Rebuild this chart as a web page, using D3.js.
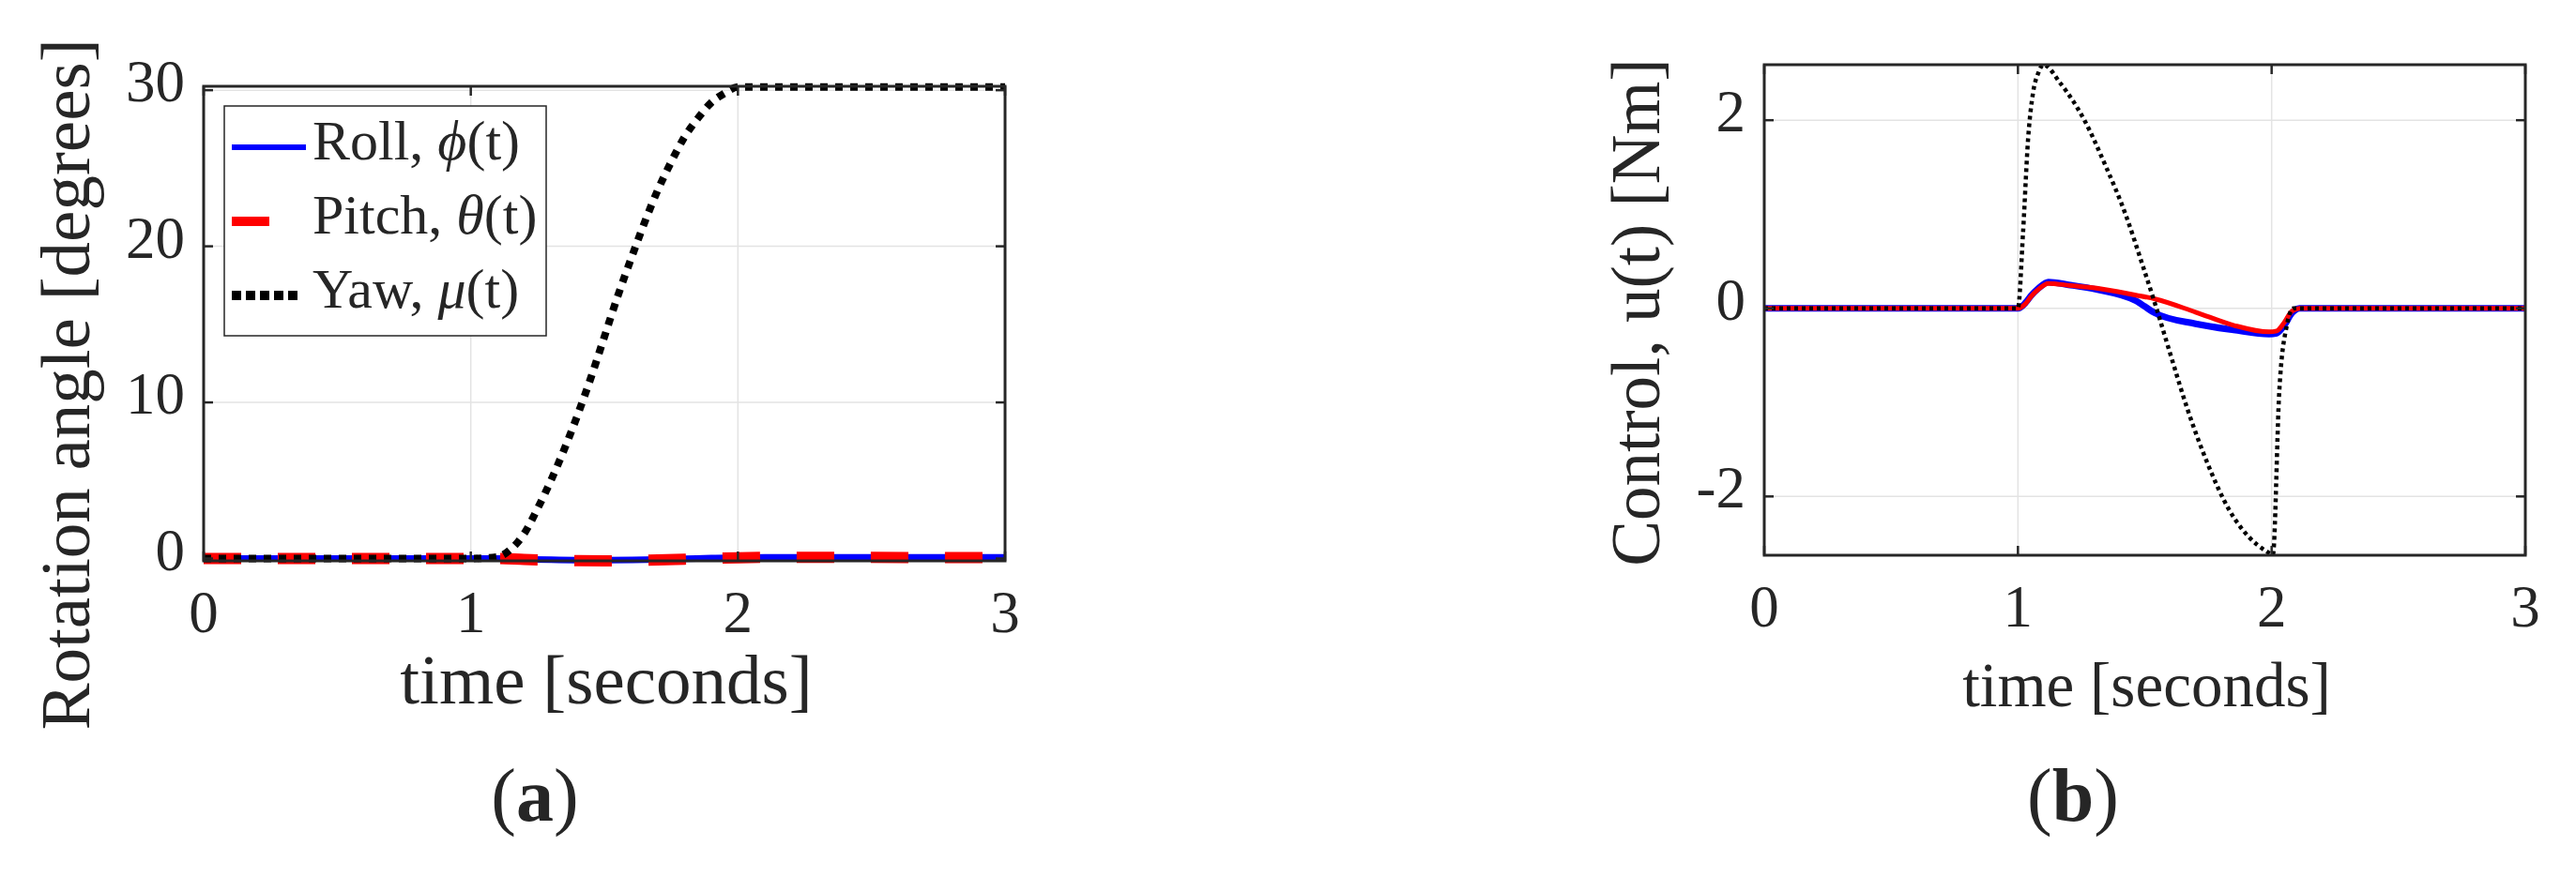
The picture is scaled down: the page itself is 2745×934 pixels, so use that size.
<!DOCTYPE html>
<html>
<head>
<meta charset="utf-8">
<script src="https://cdn.jsdelivr.net/npm/d3@7"></script>
<style>
  body { margin: 0; background: #fff; }
  svg { display: block; }
  text { font-family: "Liberation Serif", "DejaVu Serif", serif; fill: #262626; }
</style>
</head>
<body>
<svg></svg>
<script>
var W = 2745, H = 934;

// panel (a): rotation angles [degrees]
var yawTime  = [0, 1.0, 1.1, 1.15, 1.2, 1.25, 1.3, 1.35, 1.4, 1.45, 1.5, 1.55, 1.6, 1.65, 1.7, 1.75, 1.8, 1.85, 1.9, 1.95, 2.0, 3.0];
var yawAngle = [0, 0, 0.1, 0.6, 1.6, 3.2, 5.0, 7.0, 9.2, 11.6, 14.2, 16.8, 19.2, 21.5, 23.6, 25.4, 27.0, 28.2, 29.2, 29.8, 30.2, 30.2];
var attTime    = [0, 1.0, 1.1, 1.2, 1.3, 1.4, 1.5, 1.6, 1.7, 1.8, 1.9, 2.0, 2.1, 2.2, 3.0];
var rollAngle  = [0, 0, 0, -0.04, -0.08, -0.1, -0.1, -0.09, -0.06, -0.02, 0.03, 0.06, 0.08, 0.08, 0.07];
var pitchAngle = [0, 0, 0, -0.06, -0.11, -0.14, -0.15, -0.13, -0.09, -0.04, 0.01, 0.05, 0.07, 0.07, 0.06];

// panel (b): control torques [Nm]
var yawCtrlTime = [0, 1.0, 1.02, 1.04, 1.06, 1.08, 1.1, 1.168, 1.262, 1.343, 1.424, 1.49, 1.546, 1.6, 1.668, 1.749, 1.83, 1.91, 1.978, 2.005, 2.03, 2.06, 2.086, 3.0];
var yawCtrl     = [0, 0, 0.8, 1.8, 2.3, 2.5, 2.59, 2.39, 2.0, 1.53, 1.0, 0.47, 0, -0.48, -1.07, -1.66, -2.13, -2.43, -2.58, -2.62, -0.89, -0.18, 0, 0];
var ctrlTime  = [0, 1.0, 1.03, 1.05, 1.08, 1.12, 1.2, 1.31, 1.465, 1.54, 1.7, 1.85, 1.99, 2.02, 2.05, 2.08, 2.11, 3.0];
var rollCtrl  = [0, 0, 0.06, 0.13, 0.21, 0.28, 0.25, 0.2, 0.08, -0.05, -0.165, -0.23, -0.275, -0.265, -0.18, -0.05, 0, 0];
var pitchCtrl = [0, 0, 0.05, 0.12, 0.2, 0.265, 0.245, 0.215, 0.14, 0.1, -0.04, -0.18, -0.25, -0.24, -0.15, -0.03, 0, 0];

var xTicks = [0, 1, 2, 3];
var angleTicks = [0, 10, 20, 30];
var ctrlTicks = [-2, 0, 2];
var legendNames = [["Roll, ", "ϕ"], ["Pitch, ", "θ"], ["Yaw, ", "μ"]];

var svg = d3.select("svg").attr("width", W).attr("height", H);

function zip(t, v) { return t.map(function(d, i) { return [d, v[i]]; }); }

function drawPanel(p) {
  var x = d3.scaleLinear().domain([0, 3]).range([p.left, p.right]);
  var y = d3.scaleLinear().domain(p.yDomain).range([p.bottom, p.top]);
  var g = svg.append("g");

  // grid
  g.selectAll(".gx").data(xTicks).enter().append("line")
    .attr("x1", function(d) { return x(d); }).attr("x2", function(d) { return x(d); })
    .attr("y1", p.top).attr("y2", p.bottom)
    .attr("stroke", "#e3e3e3").attr("stroke-width", 1.5);
  g.selectAll(".gy").data(p.yTicks).enter().append("line")
    .attr("x1", p.left).attr("x2", p.right)
    .attr("y1", function(d) { return y(d); }).attr("y2", function(d) { return y(d); })
    .attr("stroke", "#e3e3e3").attr("stroke-width", 1.5);

  // data
  var line = d3.line()
    .x(function(d) { return x(d[0]); })
    .y(function(d) { return y(d[1]); })
    .curve(d3.curveMonotoneX);
  p.series.forEach(function(s) {
    g.append("path")
      .attr("d", line(zip(s.t, s.v)))
      .attr("fill", "none")
      .attr("stroke", s.color)
      .attr("stroke-width", s.width)
      .attr("stroke-dasharray", s.dash || null)
      .attr("stroke-linejoin", "round");
  });

  // ticks on all four sides, pointing in
  var tk = 10;
  xTicks.forEach(function(d) {
    g.append("line").attr("x1", x(d)).attr("x2", x(d)).attr("y1", p.bottom).attr("y2", p.bottom - tk)
      .attr("stroke", "#262626").attr("stroke-width", 2.5);
    g.append("line").attr("x1", x(d)).attr("x2", x(d)).attr("y1", p.top).attr("y2", p.top + tk)
      .attr("stroke", "#262626").attr("stroke-width", 2.5);
  });
  p.yTicks.forEach(function(d) {
    g.append("line").attr("x1", p.left).attr("x2", p.left + tk).attr("y1", y(d)).attr("y2", y(d))
      .attr("stroke", "#262626").attr("stroke-width", 2.5);
    g.append("line").attr("x1", p.right).attr("x2", p.right - tk).attr("y1", y(d)).attr("y2", y(d))
      .attr("stroke", "#262626").attr("stroke-width", 2.5);
  });

  // box
  g.append("rect")
    .attr("x", p.left).attr("y", p.top)
    .attr("width", p.right - p.left).attr("height", p.bottom - p.top)
    .attr("fill", "none").attr("stroke", "#262626").attr("stroke-width", 3);

  // tick labels
  g.selectAll(".xl").data(xTicks).enter().append("text")
    .attr("x", function(d) { return x(d); })
    .attr("y", p.bottom + 76)
    .attr("text-anchor", "middle")
    .attr("font-size", 63)
    .text(function(d) { return d; });
  g.selectAll(".yl").data(p.yTicks).enter().append("text")
    .attr("x", p.left - 20)
    .attr("y", function(d) { return y(d) + 12; })
    .attr("text-anchor", "end")
    .attr("font-size", 63)
    .text(function(d) { return d; });

  // axis titles
  g.append("text")
    .attr("transform", "translate(" + p.yLabelX + "," + p.yLabelY + ") rotate(-90)")
    .attr("text-anchor", "middle")
    .attr("font-size", p.yLabelSize)
    .text(p.yLabel);
  g.append("text")
    .attr("x", (p.left + p.right) / 2 + 2)
    .attr("y", p.xLabelY)
    .attr("text-anchor", "middle")
    .attr("font-size", p.xLabelSize)
    .text("time [seconds]");

  // sub-caption
  var cap = g.append("text")
    .attr("x", p.capX).attr("y", 875)
    .attr("text-anchor", "middle")
    .attr("font-size", 80)
    .attr("fill", "#000");
  cap.append("tspan").text("(");
  cap.append("tspan").attr("font-weight", "bold").text(p.cap);
  cap.append("tspan").text(")");

  return { x: x, y: y, g: g };
}

var a = drawPanel({
  left: 217, right: 1071, top: 92, bottom: 598,
  yDomain: [-0.15, 30.25], yTicks: angleTicks,
  yLabel: "Rotation angle [degrees]", yLabelX: 95, yLabelY: 410, yLabelSize: 75,
  xLabelY: 750, xLabelSize: 75,
  capX: 570, cap: "a",
  series: [
    { t: attTime, v: rollAngle, color: "#0000ff", width: 7 },
    { t: attTime, v: pitchAngle, color: "#ff0000", width: 12, dash: "40 39" },
    { t: yawTime, v: yawAngle, color: "#000", width: 8, dash: "8 8" }
  ]
});

drawPanel({
  left: 1880, right: 2691, top: 69, bottom: 592,
  yDomain: [-2.625, 2.59], yTicks: ctrlTicks,
  yLabel: "Control, u(t) [Nm]", yLabelX: 1768, yLabelY: 333, yLabelSize: 73,
  xLabelY: 753, xLabelSize: 67,
  capX: 2209, cap: "b",
  series: [
    { t: ctrlTime, v: rollCtrl, color: "#0000ff", width: 7 },
    { t: ctrlTime, v: pitchCtrl, color: "#ff0000", width: 5 },
    { t: yawCtrlTime, v: yawCtrl, color: "#000", width: 4.5, dash: "4 4" }
  ]
});

// legend of panel (a)
var lg = a.g.append("g");
lg.append("rect")
  .attr("x", 239).attr("y", 113).attr("width", 343).attr("height", 245)
  .attr("fill", "#fff").attr("stroke", "#262626").attr("stroke-width", 1.5);
var legendStyle = [
  { color: "#0000ff", width: 6, dash: null, len: 79 },
  { color: "#ff0000", width: 10, dash: "40 39", len: 79 },
  { color: "#000", width: 10, dash: "10 5", len: 72 }
];
legendNames.forEach(function(n, i) {
  var cy = 157 + i * 79;
  var st = legendStyle[i];
  lg.append("line")
    .attr("x1", 247).attr("x2", 247 + st.len)
    .attr("y1", cy).attr("y2", cy)
    .attr("stroke", st.color).attr("stroke-width", st.width)
    .attr("stroke-dasharray", st.dash);
  var t = lg.append("text")
    .attr("x", 333).attr("y", cy + 13)
    .attr("font-size", 60)
    .attr("fill", "#000");
  t.append("tspan").text(n[0]);
  t.append("tspan").attr("font-style", "italic").text(n[1]);
  t.append("tspan").text("(t)");
});
</script>
</body>
</html>
